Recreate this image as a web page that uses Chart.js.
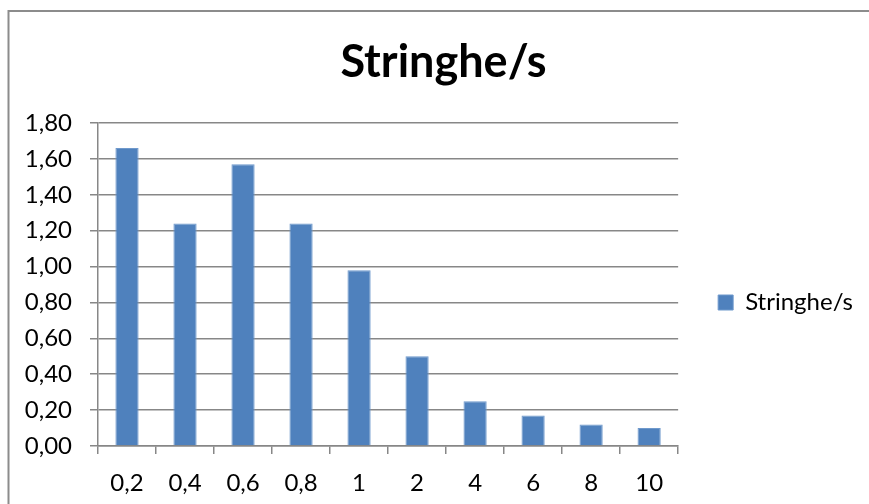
<!DOCTYPE html>
<html>
<head>
<meta charset="utf-8">
<script src="https://cdn.jsdelivr.net/npm/chart.js@4/dist/chart.umd.min.js"></script>
<style>
  html, body { margin: 0; padding: 0; background: #ffffff; }
  #wrap { width: 869px; height: 504px; position: relative; }
</style>
</head>
<body>
<div id="wrap"><canvas id="chart" width="869" height="504"></canvas></div>
<script>
// Measured rate per setting
const categories = ['0,2', '0,4', '0,6', '0,8', '1', '2', '4', '6', '8', '10'];
const seriesName = 'Stringhe/s';
const stringheValues = [1.66, 1.24, 1.57, 1.24, 0.98, 0.50, 0.25, 0.17, 0.12, 0.10];
const yMin = 0;
const yMax = 1.8;
const yStep = 0.2;

const FONT = 'Lato, "Open Sans", sans-serif';
const GRID = '#878787';
const BAR = '#4f81bd';

// Outer frame of the chart object (top and left edges)
const framePlugin = {
  id: 'frame',
  beforeDraw(chart) {
    const ctx = chart.ctx;
    ctx.save();
    ctx.fillStyle = '#ffffff';
    ctx.fillRect(0, 0, chart.width, chart.height);
    ctx.strokeStyle = '#8c8c8c';
    ctx.lineWidth = 2;
    ctx.beginPath();
    ctx.moveTo(8.5, chart.height);
    ctx.lineTo(8.5, 11);
    ctx.lineTo(chart.width, 11);
    ctx.stroke();
    ctx.restore();
  }
};

new Chart(document.getElementById('chart'), {
  type: 'bar',
  data: {
    labels: categories,
    datasets: [{
      label: seriesName,
      data: stringheValues,
      backgroundColor: BAR,
      borderColor: '#6f99cc',
      borderWidth: 1,
      barPercentage: 0.4,
      categoryPercentage: 1.0
    }]
  },
  options: {
    responsive: false,
    animation: false,
    devicePixelRatio: 1,
    layout: { padding: { left: 24, right: 6, top: 0, bottom: 0 } },
    plugins: {
      title: {
        display: true,
        text: 'Stringhe/s',
        color: '#000000',
        font: { family: FONT, size: 45, weight: 'bold', lineHeight: 1.2 },
        padding: { top: 35, bottom: 34 }
      },
      legend: {
        display: true,
        position: 'right',
        fullSize: false,
        title: { display: true, text: '', font: { size: 1, lineHeight: 1 }, padding: { top: 35, bottom: 0 } },
        labels: {
          color: '#000000',
          font: { family: FONT, size: 24 },
          boxWidth: 15,
          boxHeight: 15,
          padding: 40
        }
      },
      tooltip: { enabled: false }
    },
    scales: {
      x: {
        offset: true,
        afterFit(scale) { scale.height = 58; },
        grid: {
          offset: true,
          drawOnChartArea: false,
          drawTicks: true,
          tickLength: 8,
          color: GRID,
          lineWidth: 1.5
        },
        border: { display: true, color: GRID, width: 1.5 },
        ticks: {
          color: '#000000',
          font: { family: FONT, size: 24 },
          padding: 15,
          maxRotation: 0,
          autoSkip: false
        }
      },
      y: {
        min: yMin,
        max: yMax,
        afterFit(scale) { scale.width = 74; },
        grid: {
          color: GRID,
          lineWidth: 1.5,
          drawTicks: true,
          tickLength: 8
        },
        border: { display: true, color: GRID, width: 1.5 },
        ticks: {
          stepSize: yStep,
          color: '#000000',
          font: { family: FONT, size: 24 },
          padding: 18,
          callback: (v) => Number(v).toFixed(2).replace('.', ',')
        }
      }
    }
  },
  plugins: [framePlugin]
});
</script>
</body>
</html>
